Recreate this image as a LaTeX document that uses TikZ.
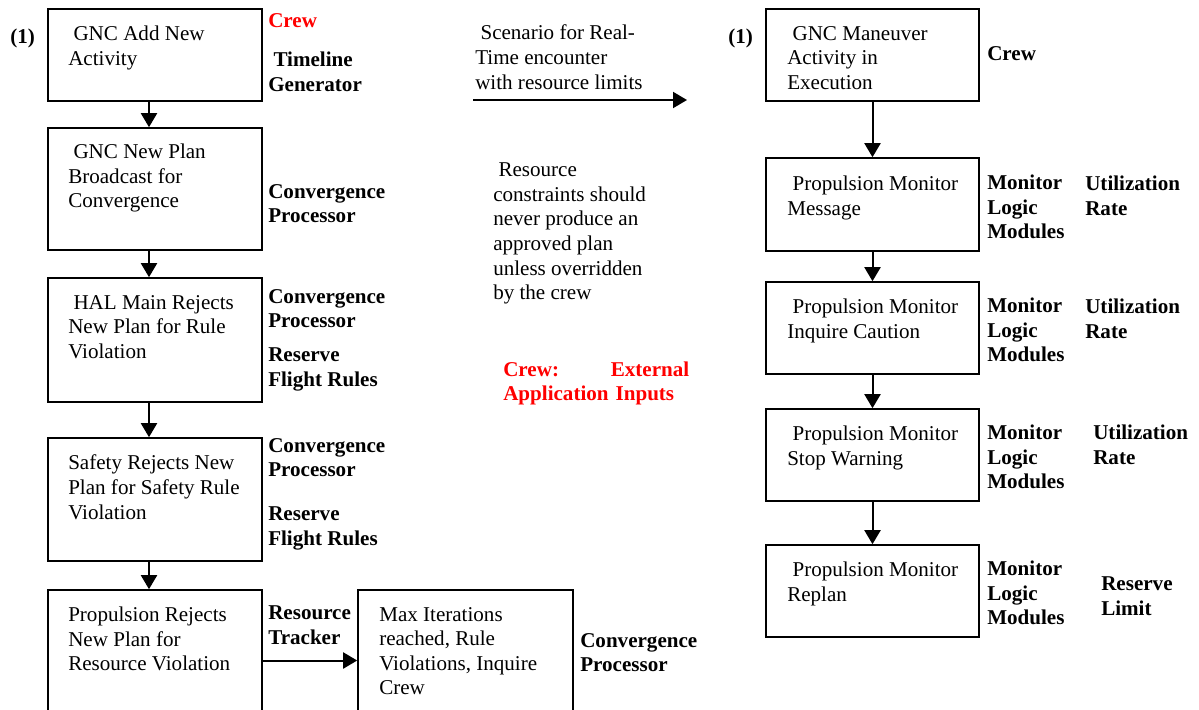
\documentclass[tikz,border=0pt]{standalone}
\usepackage{fontspec}
\setmainfont{Liberation Serif}
\usetikzlibrary{arrows.meta,fit}
\newcommand{\lead}{\hspace*{0.25em}}
\newcommand{\bodyfont}{\fontsize{15.8}{18.4}\selectfont}
\tikzset{
  flowbox/.style={draw,line width=1.2pt,inner sep=0pt},
  boxtext/.style={anchor=north west,yshift=10.6pt,align=left,inner sep=0pt,
    font=\bodyfont,execute at begin node=\strut},
  tag/.style={boxtext,font=\bodyfont\bfseries},
  flow/.style={line width=1.5pt,-{Triangle[length=10.5pt,width=12pt]}}
}
\begin{document}
\begin{tikzpicture}[x=0.75pt,y=-0.75pt]
            \useasboundingbox (0,0) rectangle (1199,710);
            \clip (0,0) rectangle (1199,710);

            % left column
            \node[tag] (numa) at (10,40) {(1)};
            \node[flowbox,fit={(48,9) (262,101)}] (b1) {};
            \node[boxtext] (t1) at (68,40) {\lead GNC Add New\\Activity};
            \node[tag,text=red] (crewa) at (268,24) {Crew};
            \node[tag] (l1) at (268,66) {\lead Timeline\\Generator};

            \node[flowbox,fit={(48,128) (262,250)}] (b2) {};
            \node[boxtext] (t2) at (68,158) {\lead GNC New Plan\\Broadcast for\\Convergence};
            \node[tag] (l2) at (268,198) {Convergence\\Processor};

            \node[flowbox,fit={(48,278) (262,402)}] (b3) {};
            \node[boxtext] (t3) at (68,309) {\lead HAL Main Rejects\\New Plan for Rule\\Violation};
            \node[tag] (l3a) at (268,303) {Convergence\\Processor};
            \node[tag] (l3b) at (268,362) {Reserve\\Flight Rules};

            \node[flowbox,fit={(48,438) (262,561)}] (b4) {};
            \node[boxtext] (t4) at (68,469) {Safety Rejects New\\Plan for Safety Rule\\Violation};
            \node[tag] (l4a) at (268,452) {Convergence\\Processor};
            \node[tag] (l4b) at (268,521) {Reserve\\Flight Rules};

            \node[flowbox,fit={(48,590) (262,731)}] (b5) {};
            \node[boxtext] (t5) at (68,621) {Propulsion Rejects\\New Plan for\\Resource Violation};
            \node[tag] (l5) at (268,620) {Resource\\Tracker};

            \node[flowbox,fit={(358,590) (573,731)}] (b6) {};
            \node[boxtext] (t6) at (379,621) {Max Iterations\\reached, Rule\\Violations, Inquire\\Crew};
            \node[tag] (l6) at (580,647) {Convergence\\Processor};

            \foreach \a/\b in {b1/b2,b2/b3,b3/b4,b4/b5} {
                \draw[flow] ([xshift=-4.5pt]\a.south) -- ([xshift=-4.5pt]\b.north);
            }
            \draw[flow] (b5) -- (b6);

            % middle notes
            \node[boxtext] (scen) at (475,39) {\lead Scenario for Real-\\Time encounter\\with resource limits};
            \coordinate (sa) at (473,100);
            \coordinate (sb) at (687,100);
            \draw[flow] (sa) -- (sb);
            \node[boxtext] (note) at (493,177) {\lead Resource\\constraints should\\never produce an\\approved plan\\unless overridden\\by the crew};
            \node[tag,text=red,text width=139.5pt] (crewb) at (503,373) {Crew:\hfill External\\Application Inputs};

            % right column
            \node[tag] (numb) at (728,40) {(1)};
            \node[flowbox,fit={(766,9) (979,101)}] (r1) {};
            \node[boxtext] (s1) at (787,40) {\lead GNC Maneuver\\Activity in\\Execution};
            \node[tag] (k1) at (987,57) {Crew};

            \node[flowbox,fit={(766,158) (979,251)}] (r2) {};
            \node[boxtext] (s2) at (787,190) {\lead Propulsion Monitor\\Message};
            \node[tag] (m2) at (987,189) {Monitor\\Logic\\Modules};
            \node[tag] (u2) at (1085,190) {Utilization\\Rate};

            \node[flowbox,fit={(766,282) (979,374)}] (r3) {};
            \node[boxtext] (s3) at (787,313) {\lead Propulsion Monitor\\Inquire Caution};
            \node[tag] (m3) at (987,312) {Monitor\\Logic\\Modules};
            \node[tag] (u3) at (1085,313) {Utilization\\Rate};

            \node[flowbox,fit={(766,409) (979,501)}] (r4) {};
            \node[boxtext] (s4) at (787,440) {\lead Propulsion Monitor\\Stop Warning};
            \node[tag] (m4) at (987,439) {Monitor\\Logic\\Modules};
            \node[tag] (u4) at (1093,439) {Utilization\\Rate};

            \node[flowbox,fit={(766,545) (979,637)}] (r5) {};
            \node[boxtext] (s5) at (787,576) {\lead Propulsion Monitor\\Replan};
            \node[tag] (m5) at (987,575) {Monitor\\Logic\\Modules};
            \node[tag] (k5) at (1101,591) {Reserve\\Limit};

            \foreach \a/\b in {r1/r2,r2/r3,r3/r4,r4/r5} {
                \draw[flow] (\a.south) -- (\b.north);
            }
\end{tikzpicture}
\end{document}
